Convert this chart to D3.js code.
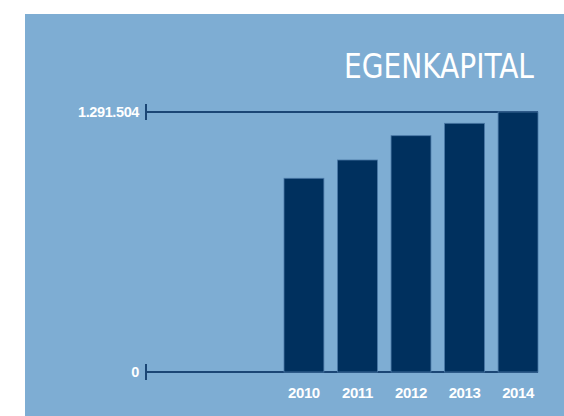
<!DOCTYPE html>
<html>
<head>
<meta charset="utf-8">
<script src="https://cdn.jsdelivr.net/npm/d3@7"></script>
<style>
  body { margin: 0; background: #ffffff; }
  svg { display: block; }
</style>
</head>
<body>
<div id="chart"></div>
<script>
// data
const years = ['2010', '2011', '2012', '2013', '2014'];
const equity = [962200, 1053100, 1173800, 1235300, 1291504];
const tickValues = [0, 1291504];
const tickLabels = ['0', '1.291.504'];

const width = 564;
const height = 416;

const svg = d3.select('#chart').append('svg')
  .attr('width', width)
  .attr('height', height);

// blue panel
svg.append('rect')
  .attr('x', 25)
  .attr('y', 14)
  .attr('width', width - 25)
  .attr('height', height - 14)
  .attr('fill', '#7eadd3');

svg.append('text')
  .attr('x', 534)
  .attr('y', 78)
  .attr('text-anchor', 'end')
  .attr('fill', '#ffffff')
  .attr('font-family', 'DejaVu Sans Condensed, DejaVu Sans, sans-serif')
  .attr('font-size', 33)
  .attr('textLength', 190)
  .attr('lengthAdjust', 'spacingAndGlyphs')
  .text('EGENKAPITAL');

const x = d3.scaleBand()
  .domain(years)
  .range([284, 538])
  .paddingInner(0.255)
  .paddingOuter(0);

const y = d3.scaleLinear()
  .domain([0, 1291504])
  .range([372, 112]);

// horizontal reference lines at the ticks
svg.append('g')
  .selectAll('line')
  .data(tickValues)
  .join('line')
  .attr('x1', 146)
  .attr('x2', 538)
  .attr('y1', d => y(d))
  .attr('y2', d => y(d))
  .attr('stroke', '#1b4675')
  .attr('stroke-width', 2);

// short vertical marks
svg.append('g')
  .selectAll('line')
  .data(tickValues)
  .join('line')
  .attr('x1', 146)
  .attr('x2', 146)
  .attr('y1', d => y(d) - 8)
  .attr('y2', d => y(d) + 8)
  .attr('stroke', '#1b4675')
  .attr('stroke-width', 2);

svg.append('g')
  .selectAll('text')
  .data(tickValues)
  .join('text')
  .attr('x', 139)
  .attr('y', d => y(d) + 4.5)
  .attr('text-anchor', 'end')
  .attr('fill', '#ffffff')
  .attr('font-family', 'Liberation Sans, Arial, sans-serif')
  .attr('font-weight', 'bold')
  .attr('font-size', 14.5)
  .attr('letter-spacing', -0.4)
  .text((d, i) => tickLabels[i]);

svg.append('g')
  .selectAll('rect')
  .data(equity)
  .join('rect')
  .attr('x', (d, i) => x(years[i]))
  .attr('y', d => y(d))
  .attr('width', x.bandwidth())
  .attr('height', d => y(0) - y(d))
  .attr('fill', '#00305e')
  .attr('stroke', '#4a78a6')
  .attr('stroke-width', 0.8);

svg.append('g')
  .selectAll('text')
  .data(years)
  .join('text')
  .attr('x', d => x(d) + x.bandwidth() / 2)
  .attr('y', 398)
  .attr('text-anchor', 'middle')
  .attr('fill', '#ffffff')
  .attr('font-family', 'Liberation Sans, Arial, sans-serif')
  .attr('font-weight', 'bold')
  .attr('font-size', 15)
  .attr('letter-spacing', -0.4)
  .text(d => d);
</script>
</body>
</html>
